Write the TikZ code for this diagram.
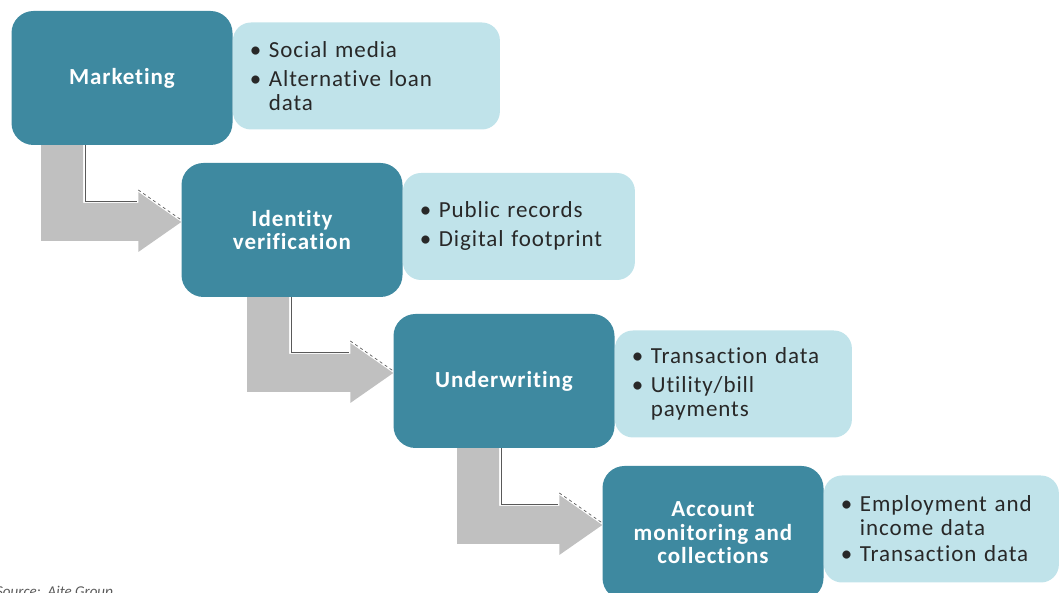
\documentclass[tikz,border=0pt]{standalone}
\usepackage{fontspec}
\setmainfont{Carlito}[LetterSpace=4, Ligatures=NoCommon]
\newfontfamily\creditfont{Carlito}
\usetikzlibrary{calc}
\definecolor{stagefill}{HTML}{3E89A0}
\definecolor{infofill}{HTML}{C0E3EA}
\definecolor{flowgray}{HTML}{C0C0C0}
\definecolor{infotext}{HTML}{282828}
\newcommand{\bul}{\makebox[19pt][l]{\textbullet}}

\begin{document}
\begin{tikzpicture}[x=1pt, y=1pt,
    stage/.style={fill=stagefill, rounded corners=22pt, minimum width=221pt,
      minimum height=134pt, text=white, align=center,
      font=\fontsize{23}{23.5}\selectfont\bfseries},
    info/.style={fill=infofill, rounded corners=18pt, minimum height=107pt,
      anchor=west, inner xsep=17pt, align=left, text=infotext,
      font=\fontsize{23}{24}\selectfont},
    flow/.style={fill=flowgray},
    flowedge/.style={draw=black!65, line width=0.7pt}]
      \useasboundingbox (0,0) rectangle (1061,593);

      \node[stage] (mkt) at (122, 515) {Marketing};
      \node[stage] (idv) at (292, 363) {Identity\\verification};
      \node[stage] (uw) at (504, 212) {Underwriting};
      \node[stage] (acct) at (713, 60) {Account\\monitoring and\\collections};

      \node[info, text width=233pt] (mktinfo) at ([yshift=2pt]mkt.east)
        {\bul Social media\\[5pt] \bul Alternative loan\\ \hspace*{19pt}data};
      \node[info, text width=198pt] (idvinfo) at ([yshift=3.5pt]idv.east)
        {\bul Public records\\[5pt] \bul Digital footprint};
      \node[info, text width=203pt] (uwinfo) at ([yshift=-3pt]uw.east)
        {\bul Transaction data\\[5pt] \bul Utility/bill\\ \hspace*{19pt}payments};
      \node[info, text width=201pt] (acctinfo) at ([yshift=4pt]acct.east)
        {\bul Employment and\\ \hspace*{19pt}income data\\[2pt] \bul Transaction data};

      \foreach \src/\dst/\stem in {mkt/idv/41pt, idv/uw/247pt, uw/acct/457pt} {
        \fill[flow] let \p1 = (\src.south), \p2 = (\dst.west) in
          (\stem, \y1) -- (\stem+42pt, \y1) -- (\stem+42pt, \y2+27pt)
          -- (\x2-43pt, \y2+27pt) -- (\x2-43pt, \y2+38pt) -- (\x2, \y2+8pt)
          -- (\x2-43pt, \y2-22pt) -- (\x2-43pt, \y2-11pt) -- (\stem, \y2-11pt) -- cycle;
        \draw[flowedge] let \p1 = (\src.south), \p2 = (\dst.west) in
          (\stem+44pt, \y1) -- (\stem+44pt, \y2+29pt) -- (\x2-44pt, \y2+29pt);
        \draw[flowedge, dashed] let \p2 = (\dst.west) in
          (\x2-43pt, \y2+40pt) -- (\x2, \y2+10pt);
      }

      \node[anchor=north west, inner sep=0pt, text=black!65,
        font=\creditfont\fontsize{15}{17}\selectfont\itshape] (credit) at (-4, 7) {Source:\ \ Aite Group};
    \end{tikzpicture}
\end{document}
